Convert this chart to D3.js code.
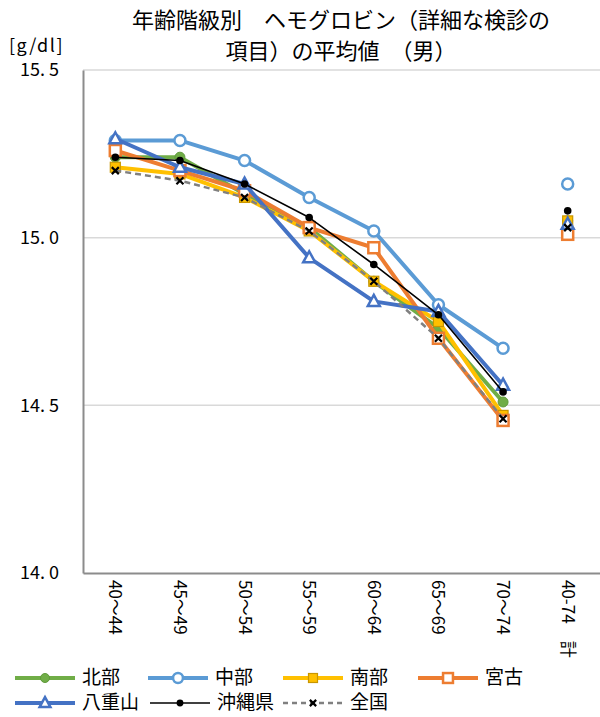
<!DOCTYPE html>
<html><head><meta charset="utf-8">
<script src="https://cdn.jsdelivr.net/npm/d3@7"></script>
<style>body{margin:0;background:#fff;} text{font-family:"Noto Sans CJK JP","Noto Sans",sans-serif;}</style>
</head><body>
<svg id="c" width="600" height="717"></svg>
<script>
const categories = ["40〜44","45〜49","50〜54","55〜59","60〜64","65〜69","70〜74","40-74　計"];
const hokubu   = [15.24, 15.24, 15.13, 15.03, 14.87, 14.73, 14.51, 15.05];
const chubu    = [15.29, 15.29, 15.23, 15.12, 15.02, 14.80, 14.67, 15.16];
const nanbu    = [15.21, 15.19, 15.12, 15.02, 14.87, 14.75, 14.47, 15.05];
const miyako   = [15.26, 15.20, 15.14, 15.03, 14.97, 14.70, 14.455, 15.01];
const yaeyama  = [15.295, 15.21, 15.16, 14.94, 14.81, 14.78, 14.56, 15.04];
const okinawa  = [15.24, 15.23, 15.16, 15.06, 14.92, 14.77, 14.54, 15.08];
const zenkoku  = [15.20, 15.17, 15.12, 15.02, 14.87, 14.70, 14.46, 15.03];
const seriesNames = ["北部","中部","南部","宮古","八重山","沖縄県","全国"];
const yTicks = [14.0, 14.5, 15.0, 15.5];
const yTickLabels = ["14. 0","14. 5","15. 0","15. 5"];

const series = [
  {name:"北部", values:hokubu, color:"#70ad47", width:4, marker:"circleFill"},
  {name:"中部", values:chubu, color:"#5b9bd5", width:4, marker:"circleOpen"},
  {name:"南部", values:nanbu, color:"#ffc000", width:4, marker:"squareFill"},
  {name:"宮古", values:miyako, color:"#ed7d31", width:4, marker:"squareOpen"},
  {name:"八重山", values:yaeyama, color:"#4472c4", width:4, marker:"triangle"},
  {name:"沖縄県", values:okinawa, color:"#000000", width:1.6, marker:"dot"},
  {name:"全国", values:zenkoku, color:"#808080", width:2.5, marker:"x", dash:"6,4"}
];

const svg = d3.select("#c");
const x = d3.scaleBand().domain(categories).range([83, 600]).padding(0);
const y = d3.scaleLinear().domain([14.0, 15.5]).range([573, 70]);

// gridlines
svg.append("g").selectAll("line").data(yTicks.filter(t=>t>14)).join("line")
  .attr("x1", 83).attr("x2", 600).attr("y1", d=>y(d)).attr("y2", d=>y(d))
  .attr("stroke", "#d9d9d9").attr("stroke-width", 1.5);

// axes
const yAxis = d3.axisLeft(y).tickValues(yTicks).tickSize(0).tickFormat((d,i)=>yTickLabels[i]);
const gy = svg.append("g").attr("transform","translate(83,0)").call(yAxis);
gy.select(".domain").attr("stroke","#8c8c8c").attr("stroke-width",2);
gy.selectAll("text").attr("x",-24).attr("font-size",18).attr("fill","#000")
  .style("font-family","'Noto Sans CJK JP'");

const xAxis = d3.axisBottom(x).tickSize(0);
const gx = svg.append("g").attr("transform","translate(0,573)").call(xAxis);
gx.select(".domain").attr("stroke","#8c8c8c").attr("stroke-width",2);
gx.selectAll("text").attr("font-size",17).attr("fill","#000")
  .attr("transform","rotate(90)").attr("text-anchor","start")
  .attr("x", 7).attr("y", 0).attr("dy","0.35em")
  .style("font-family","'Noto Sans CJK JP'");

// title
svg.append("text").attr("x",341).attr("y",28).attr("text-anchor","middle").attr("font-size",22)
  .text("年齢階級別　ヘモグロビン（詳細な検診の");
svg.append("text").attr("x",341).attr("y",59).attr("text-anchor","middle").attr("font-size",22)
  .text("項目）の平均値　（男）");
svg.append("text").attr("x",9).attr("y",52).attr("font-size",18).attr("letter-spacing",1.5).text("[g/dl]");

function drawMarker(g, s, cx, cy, scale) {
  const k = scale || 1;
  switch (s.marker) {
    case "circleFill":
      g.append("circle").attr("cx",cx).attr("cy",cy).attr("r",5*k).attr("fill","#70ad47").attr("stroke","#5f9a3a").attr("stroke-width",1); break;
    case "circleOpen":
      g.append("circle").attr("cx",cx).attr("cy",cy).attr("r",5.5*k).attr("fill","#fff").attr("stroke",s.color).attr("stroke-width",2.5); break;
    case "squareFill":
      g.append("rect").attr("x",cx-5*k).attr("y",cy-5*k).attr("width",10*k).attr("height",10*k).attr("fill","#ffc000").attr("stroke","#c89600").attr("stroke-width",1.2); break;
    case "squareOpen":
      g.append("rect").attr("x",cx-5.5*k).attr("y",cy-5.5*k).attr("width",11*k).attr("height",11*k).attr("fill","#fff").attr("stroke",s.color).attr("stroke-width",2.5); break;
    case "triangle":
      g.append("path").attr("d",`M${cx},${cy-6.5*k}L${cx+6*k},${cy+4.5*k}L${cx-6*k},${cy+4.5*k}Z`).attr("fill","#fff").attr("stroke",s.color).attr("stroke-width",2.5); break;
    case "dot":
      g.append("circle").attr("cx",cx).attr("cy",cy).attr("r",3.8*k).attr("fill","#000"); break;
    case "x":
      g.append("path").attr("d",`M${cx-3.5*k},${cy-3.5*k}L${cx+3.5*k},${cy+3.5*k}M${cx+3.5*k},${cy-3.5*k}L${cx-3.5*k},${cy+3.5*k}`).attr("stroke","#000").attr("stroke-width",2.2); break;
  }
}

const line = d3.line().x(d=>x(d.c)+x.bandwidth()/2).y(d=>y(d.v));
series.forEach(s => {
  const g = svg.append("g");
  const pts = s.values.map((v,i)=>({c:categories[i], v}));
  g.append("path").datum(pts.slice(0,7)).attr("d",line).attr("fill","none")
    .attr("stroke",s.color).attr("stroke-width",s.width).attr("stroke-linejoin","round")
    .attr("stroke-dasharray", s.dash || null);
  pts.forEach(p => drawMarker(g, s, x(p.c)+x.bandwidth()/2, y(p.v)));
});

// legend
const legendPos = [
  [15,678],[148,678],[283,678],[418,678],
  [15,703],[150,703],[283,703]
];
series.forEach((s,i) => {
  const [lx,ly] = legendPos[i];
  const g = svg.append("g");
  g.append("line").attr("x1",lx).attr("x2",lx+60).attr("y1",ly).attr("y2",ly)
    .attr("stroke",s.color).attr("stroke-width",s.width).attr("stroke-dasharray", s.dash ? "5,4" : null);
  drawMarker(g, s, lx+30, ly, 0.9);
  g.append("text").attr("x",lx+67).attr("y",ly).attr("dy","0.34em").attr("font-size",19).text(s.name);
});
</script>
</body></html>
